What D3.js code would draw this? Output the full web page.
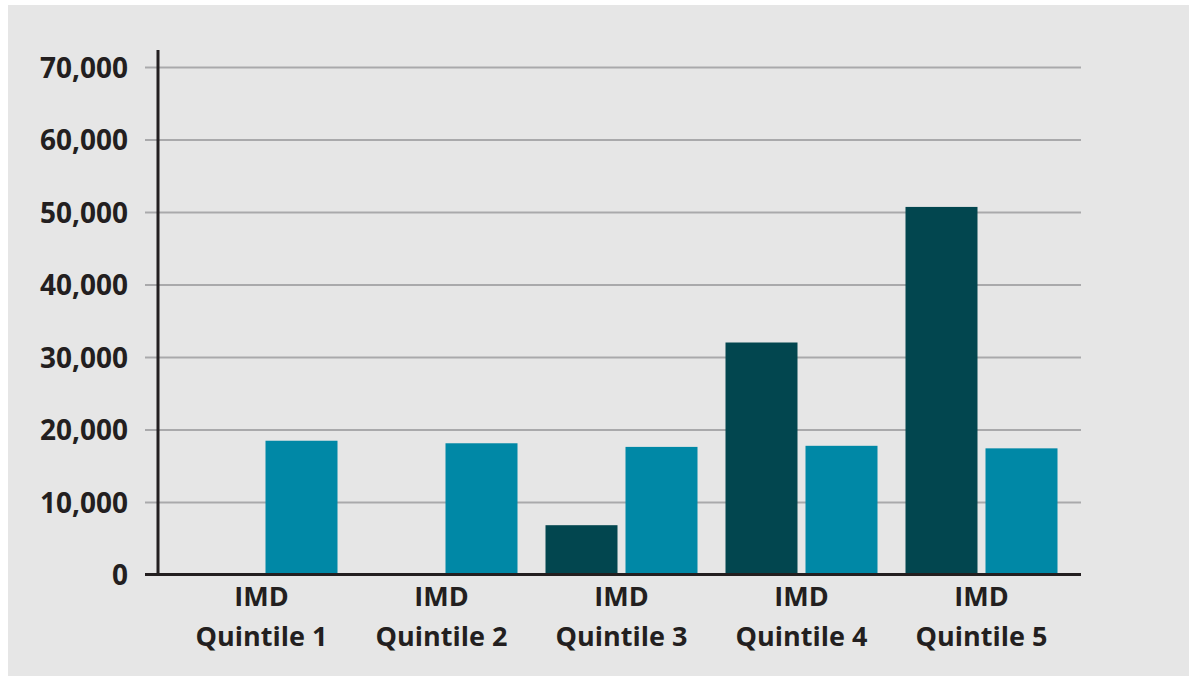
<!DOCTYPE html>
<html>
<head>
<meta charset="utf-8">
<script src="https://cdn.jsdelivr.net/npm/d3@7"></script>
<style>
  html, body { margin: 0; padding: 0; background: #ffffff; }
  svg { display: block; }
</style>
</head>
<body>
<svg id="chart" width="1189" height="676"></svg>
<script>
// Quintile categories and the two bar series
const categories = ["IMD Quintile 1", "IMD Quintile 2", "IMD Quintile 3", "IMD Quintile 4", "IMD Quintile 5"];
const labelLines = [["IMD", "Quintile 1"], ["IMD", "Quintile 2"], ["IMD", "Quintile 3"], ["IMD", "Quintile 4"], ["IMD", "Quintile 5"]];
const seriesNames = ["dark", "light"];
const darkValues = [0, 0, 6800, 32000, 50700];
const lightValues = [18450, 18100, 17600, 17750, 17400];
const yTicks = [0, 10000, 20000, 30000, 40000, 50000, 60000, 70000];

const svg = d3.select("#chart");
const W = 1189, H = 676;

// panel background
svg.append("rect").attr("x", 8).attr("y", 5).attr("width", W - 8).attr("height", H - 5).attr("fill", "#e6e6e6");

const axisX = 158, gridRight = 1081;
const y = d3.scaleLinear().domain([0, 70000]).range([574.5, 67]);

const x0 = d3.scaleBand().domain(categories).range([171.5, 1071.5]).paddingInner(28 / 180).paddingOuter(14 / 180);
const x1 = d3.scaleBand().domain(seriesNames).range([0, x0.bandwidth()]).paddingInner(8 / 80).paddingOuter(0);

const colors = { dark: "#02464f", light: "#0088a6" };
const fontFamily = "'Open Sans', sans-serif";
const textColor = "#231f20";

// gridlines and tick labels
const yAxis = d3.axisLeft(y).tickValues(yTicks).tickSize(0).tickPadding(0).tickFormat(d3.format(","));
const ga = svg.append("g").attr("transform", `translate(${axisX},0)`).call(yAxis);
ga.select(".domain").remove();
ga.selectAll(".tick text")
  .attr("x", -30)
  .attr("dy", "0.36em")
  .attr("fill", textColor)
  .style("font-family", fontFamily)
  .style("font-weight", "700")
  .style("font-size", "28px");
ga.selectAll(".tick").filter(d => d !== 0).append("line")
  .attr("x1", -13).attr("x2", gridRight - axisX)
  .attr("stroke", "#a9a9ab").attr("stroke-width", 2);

// bars
const groups = svg.append("g").selectAll("g")
  .data(categories.map((c, i) => ({ c, vals: [{ k: "dark", v: darkValues[i] }, { k: "light", v: lightValues[i] }] })))
  .join("g")
  .attr("transform", d => `translate(${x0(d.c)},0)`);

groups.selectAll("rect")
  .data(d => d.vals.filter(e => e.v > 0))
  .join("rect")
  .attr("x", d => x1(d.k))
  .attr("width", x1.bandwidth())
  .attr("y", d => y(d.v))
  .attr("height", d => y(0) - y(d.v))
  .attr("fill", d => colors[d.k]);

// axes lines
svg.append("line").attr("x1", axisX).attr("x2", axisX).attr("y1", 50).attr("y2", y(0))
  .attr("stroke", textColor).attr("stroke-width", 3);
svg.append("line").attr("x1", 145).attr("x2", gridRight).attr("y1", y(0)).attr("y2", y(0))
  .attr("stroke", textColor).attr("stroke-width", 3);

// category labels
const xl = svg.append("g");
categories.forEach((c, i) => {
  const cx = x0(c) + x0.bandwidth() / 2;
  const t = xl.append("text")
    .attr("x", cx).attr("y", 606)
    .attr("text-anchor", "middle")
    .attr("fill", textColor)
    .style("font-family", fontFamily)
    .style("font-weight", "700")
    .style("font-size", "27px");
  labelLines[i].forEach((ln, j) => {
    t.append("tspan").attr("x", cx).attr("y", 606 + j * 40).text(ln);
  });
});
</script>
</body>
</html>
